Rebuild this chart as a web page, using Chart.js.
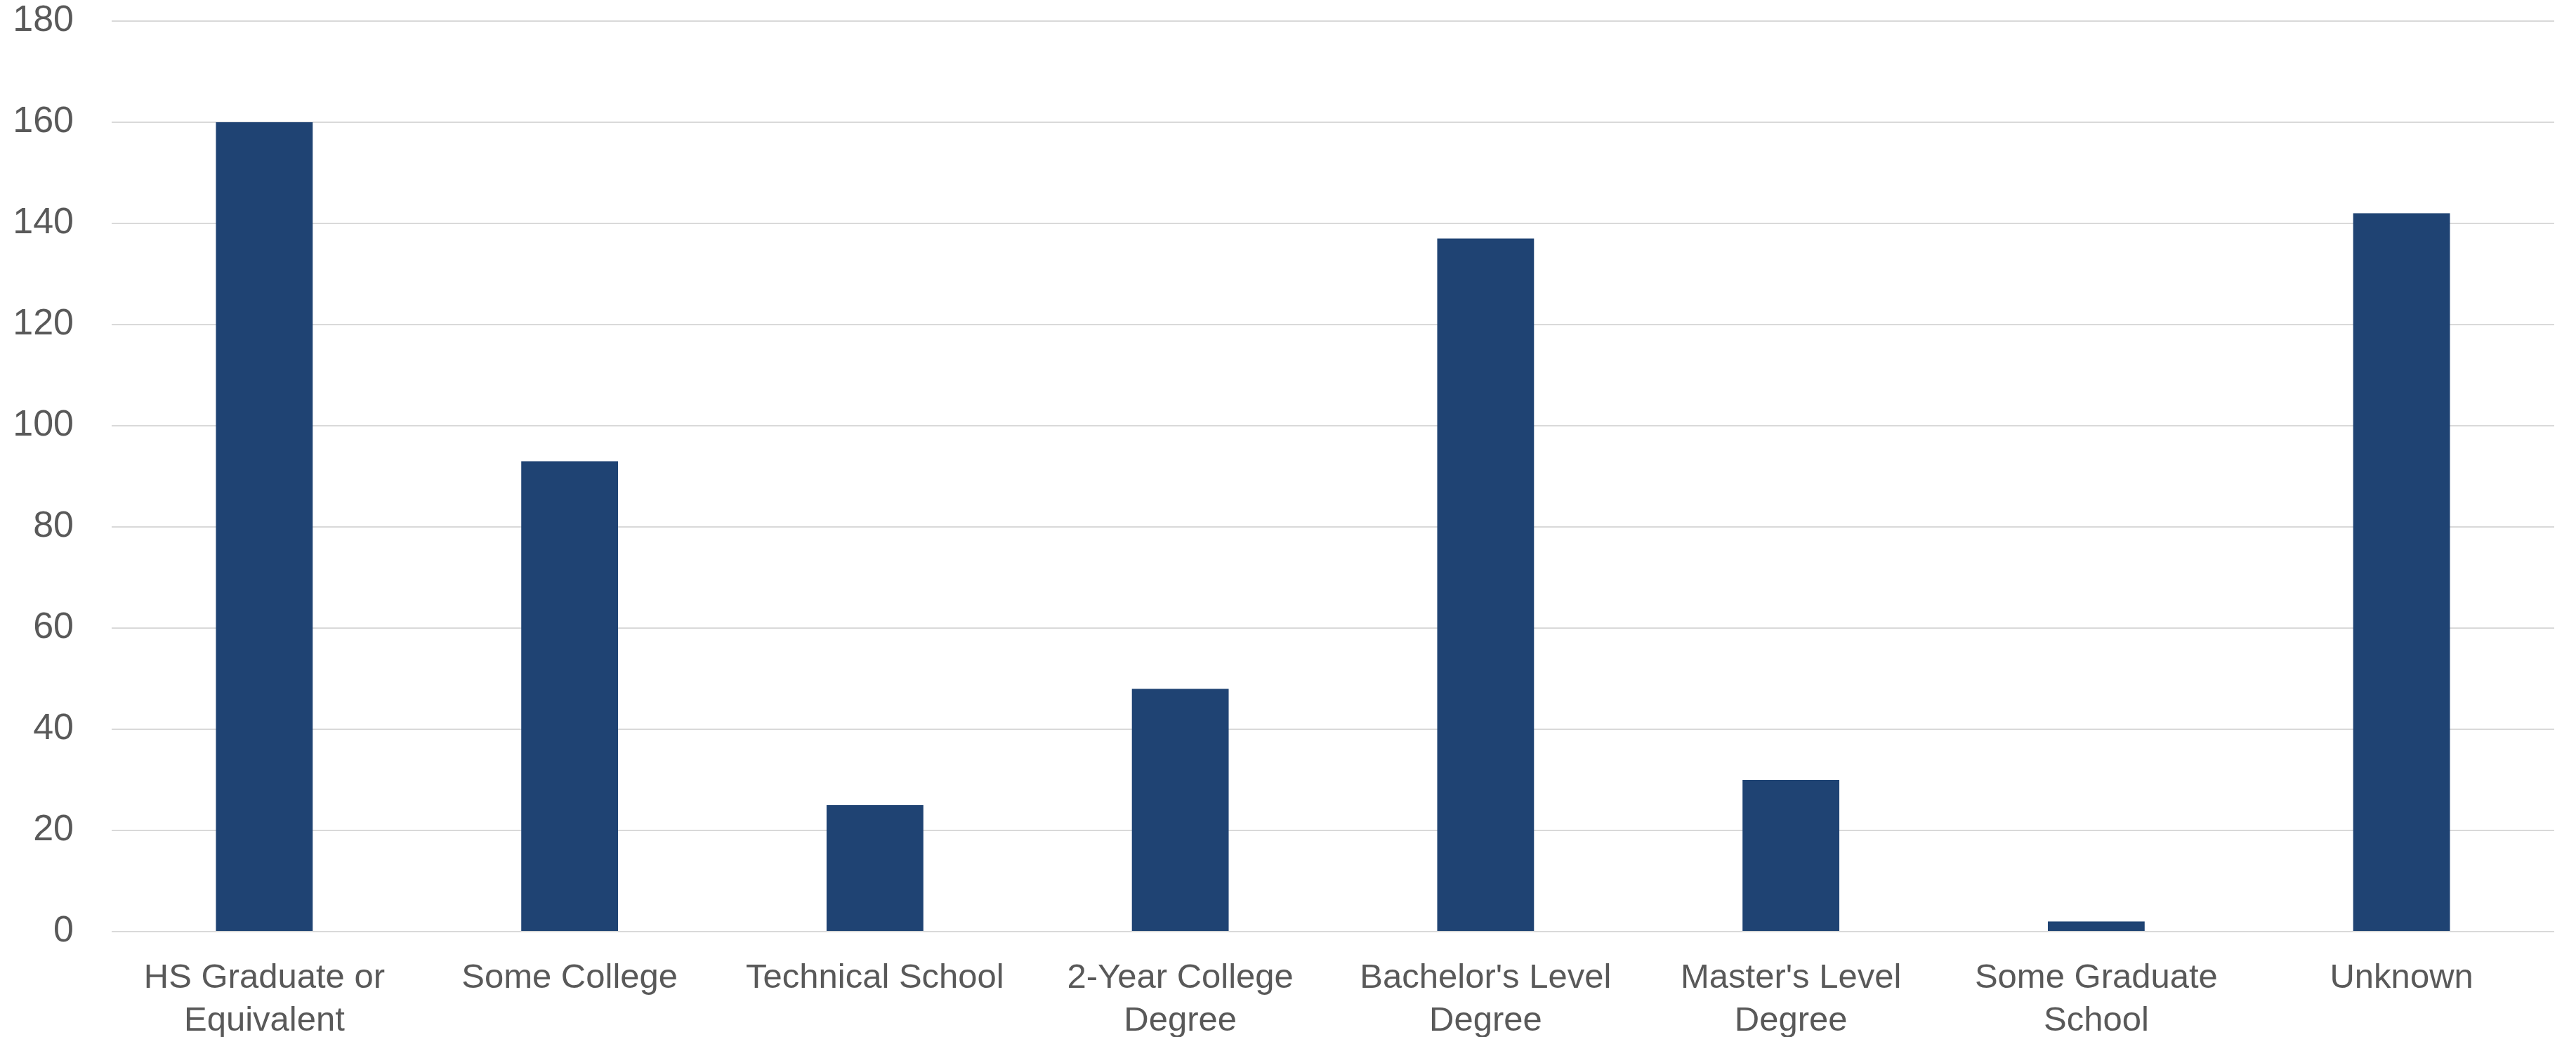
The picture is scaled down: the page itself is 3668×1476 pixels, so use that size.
<!DOCTYPE html>
<html>
<head>
<meta charset="utf-8">
<script src="https://cdn.jsdelivr.net/npm/chart.js@4/dist/chart.umd.min.js"></script>
<style>
  html, body { margin: 0; padding: 0; background: #ffffff; }
  #wrap { width: 3668px; height: 1476px; }
</style>
</head>
<body>
<div id="wrap"><canvas id="stage" width="3668" height="1476"></canvas></div>
<script>
// categories (multi-line, wrapped as in the picture)
const categories = [
  ['HS Graduate or', 'Equivalent'],
  'Some College',
  'Technical School',
  ['2-Year College', 'Degree'],
  ["Bachelor's Level", 'Degree'],
  ["Master's Level", 'Degree'],
  ['Some Graduate', 'School'],
  'Unknown'
];
const counts = [160, 93, 25, 48, 137, 30, 2, 142];
const yTicks = [0, 20, 40, 60, 80, 100, 120, 140, 160, 180];

const barColor = '#1F4373';
const textColor = '#595959';
const gridColor = '#D9D9D9';

const canvas = document.getElementById('stage');
const chart = new Chart(canvas, {
  type: 'bar',
  data: {
    labels: categories,
    datasets: [{
      data: counts,
      backgroundColor: barColor,
      borderWidth: 0,
      barPercentage: 0.317,
      categoryPercentage: 1.0
    }]
  },
  options: {
    responsive: false,
    animation: false,
    devicePixelRatio: 1,
    layout: { padding: { top: 30, right: 31, left: 0, bottom: 0 } },
    plugins: {
      legend: { display: false },
      tooltip: { enabled: false }
    },
    scales: {
      x: {
        grid: { display: false, drawTicks: false },
        border: { display: false },
        ticks: {
          color: textColor,
          font: { family: 'Liberation Sans', size: 49, lineHeight: 1.25 },
          padding: 36,
          maxRotation: 0,
          autoSkip: false
        },
        afterFit: (s) => { s.height = 150; }
      },
      y: {
        min: 0,
        max: 180,
        afterBuildTicks: (s) => { s.ticks = yTicks.map(v => ({ value: v })); },
        grid: { color: gridColor, lineWidth: 2, drawTicks: false },
        border: { display: false },
        ticks: {
          color: textColor,
          font: { family: 'Liberation Sans', size: 52 },
          padding: 54
        },
        afterFit: (s) => {
          s.width = 159;
          s.paddingTop = 0;
          s.paddingBottom = 0;
        }
      }
    }
  }
});
</script>
</body>
</html>
